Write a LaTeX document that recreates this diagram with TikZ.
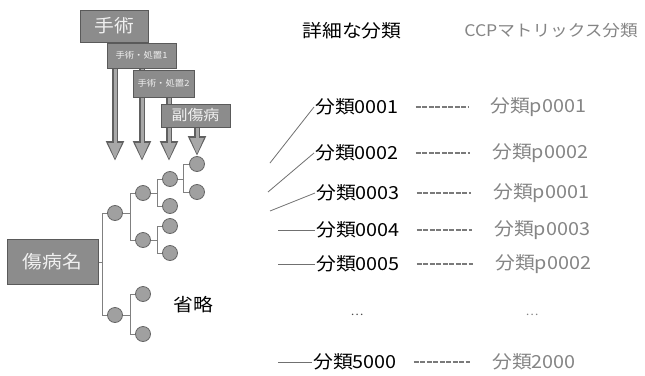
\documentclass[tikz,border=0pt]{standalone}
\usepackage{fontspec}
\newfontfamily\jp[FakeStretch=1.1]{Noto Sans CJK JP}
\usetikzlibrary{arrows.meta,calc,backgrounds}
\definecolor{boxfill}{HTML}{8C8C8C}
\definecolor{boxline}{HTML}{5A5A5A}
\definecolor{boxtext}{HTML}{F0F0F0}
\definecolor{circfill}{HTML}{A0A0A0}
\definecolor{circline}{HTML}{666666}
\definecolor{treeline}{HTML}{808080}
\definecolor{ccpgray}{HTML}{858585}
\definecolor{dashgray}{HTML}{7A7A7A}
\definecolor{linegray}{HTML}{707070}
\definecolor{arrout}{HTML}{606060}
\definecolor{arrin}{HTML}{A8A8A8}
\begin{document}
\begin{tikzpicture}[x=1pt,y=-1pt,
  box/.style={draw=boxline, fill=boxfill, line width=1pt, text=boxtext, inner sep=0pt},
  big/.style={font={\jp\fontsize{18}{20}\selectfont}},
  tiny/.style={font={\jp\fontsize{8.5}{10}\selectfont}},
  leaf/.style={circle, draw=circline, fill=circfill, minimum size=15pt, inner sep=0pt, line width=0.8pt},
  tl/.style={draw=treeline, line width=0.8pt},
  lbl/.style={font={\jp\fontsize{18}{20}\selectfont}, anchor=west, inner sep=1pt},
  ccp/.style={lbl, text=ccpgray},
  dsh/.style={draw=dashgray, line width=1.3pt, dash pattern=on 5pt off 1.5pt, shorten <=16pt, shorten >=21pt},
  ln/.style={draw=linegray, line width=0.8pt},
  arrA/.style={draw=arrout, line width=5.5pt, -{Triangle[width=17pt,length=20pt]}},
  arrB/.style={draw=arrin, line width=3pt, shorten >=2pt, -{Triangle[width=13pt,length=16pt,fill=arrin]}}
]
\useasboundingbox (0,0) rectangle (645,375);

% boxes
\node[box, big, minimum width=68pt, minimum height=32pt] (s1) at (114,26) {手術};
\node[box, tiny, minimum width=69pt, minimum height=25pt] (s2) at (141.5,55.5) {手術・処置1};
\node[box, tiny, minimum width=61pt, minimum height=27pt] (s3) at (163.5,83.5) {手術・処置2};
\node[box, font={\jp\fontsize{14.5}{16}\selectfont}, minimum width=69pt, minimum height=23pt] (s4) at (195.5,115.5) {副傷病};
\node[box, big, minimum width=91pt, minimum height=45pt] (root) at (52.5,262) {傷病名};

% arrow tips
\coordinate (t1) at (115,161);
\coordinate (t2) at (142,161);
\coordinate (t3) at (169,161);
\coordinate (t4) at (197,156);

\begin{scope}[on background layer]
\fill[white] (0,0) rectangle (645,375);
\foreach \s/\t in {s1/t1,s2/t2,s3/t3,s4/t4}{
  \draw[arrA] (\s.south -| \t) -- (\t);
  \draw[arrB] (\s.south -| \t) -- (\t);
}
\end{scope}

% tree
\node[leaf] (c1) at (115,213) {};
\node[leaf] (c5) at (115,315) {};
\node[leaf] (c2a) at (143,193) {};
\node[leaf] (c2b) at (143,240) {};
\node[leaf] (c6a) at (143,294) {};
\node[leaf] (c6b) at (143,334) {};
\node[leaf] (c3a) at (170,179) {};
\node[leaf] (c3b) at (170,206) {};
\node[leaf] (c3c) at (170,226) {};
\node[leaf] (c3d) at (170,253) {};
\node[leaf] (c4a) at (197,164) {};
\node[leaf] (c4b) at (197,192) {};

\draw[tl] (root.east) -- ++(4,0) |- (c1);
\draw[tl] (root.east) -- ++(4,0) |- (c5);
\draw[tl] (c1.east) -- ++(7.5,0) |- (c2a);
\draw[tl] (c1.east) -- ++(7.5,0) |- (c2b);
\draw[tl] (c5.east) -- ++(7.5,0) |- (c6a);
\draw[tl] (c5.east) -- ++(7.5,0) |- (c6b);
\draw[tl] (c2a.east) -- ++(6.5,0) |- (c3a);
\draw[tl] (c2a.east) -- ++(6.5,0) |- (c3b);
\draw[tl] (c2b.east) -- ++(6.5,0) |- (c3c);
\draw[tl] (c2b.east) -- ++(6.5,0) |- (c3d);
\draw[tl] (c3a.east) -- ++(5.5,0) |- (c4a);
\draw[tl] (c3a.east) -- ++(5.5,0) |- (c4b);

\node[big] (om) at (193,305) {省略};

% headers
\node[big] (h1) at (352,31) {詳細な分類};
\node[font={\jp\fontsize{16}{18}\selectfont}, text=ccpgray] (h2) at (551,31) {CCPマトリックス分類};

% rows
\node[lbl] (n1) at (314,107) {分類0001};
\node[lbl] (n2) at (314,153) {分類0002};
\node[lbl] (n3) at (315,193) {分類0003};
\node[lbl] (n4) at (315,230) {分類0004};
\node[lbl] (n5) at (315,264) {分類0005};
\node[lbl] (n6) at (312,362) {分類5000};

\node[ccp] (p1) at (489,107) {分類p0001};
\node[ccp] (p2) at (491,153) {分類p0002};
\node[ccp] (p3) at (492,193) {分類p0001};
\node[ccp] (p4) at (493,230) {分類p0003};
\node[ccp] (p5) at (494,264) {分類p0002};
\node[ccp] (p6) at (491,362) {分類2000};

\node[font={\jp\fontsize{11}{12}\selectfont}, text=black!70] (d1) at (357,315) {…};
\node[font={\jp\fontsize{11}{12}\selectfont}, text=ccpgray] (d2) at (532,315) {…};

\foreach \i in {1,...,6}{
  \draw[dsh] (n\i.east) -- (p\i.west);
}

\coordinate (a1) at (270,163);
\coordinate (a2) at (268,192);
\coordinate (a3) at (270,211);
\coordinate (a4) at (278,230);
\coordinate (a5) at (278,264);
\coordinate (a6) at (278,362);
\foreach \i in {1,...,6}{
  \draw[ln] (a\i) -- (n\i.west);
}
\end{tikzpicture}
\end{document}
